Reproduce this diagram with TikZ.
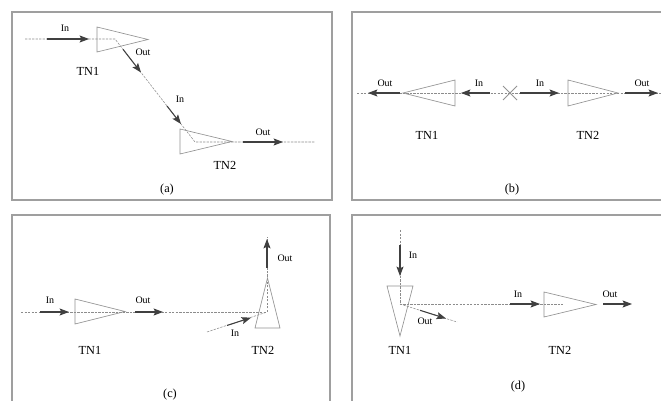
\documentclass[tikz,border=0pt]{standalone}
\usepackage{fontspec}
\setmainfont{Liberation Serif}
\usetikzlibrary{arrows.meta}

\begin{document}
\begin{tikzpicture}[
  x=0.03cm, y=-0.03cm,
  panel/.style={draw=gray!75, line width=0.9pt},
  amp/.style={draw=gray!85, line width=0.55pt},
  beam/.style={dash pattern=on 2pt off 1pt, draw=gray!90, line width=0.45pt},
  flow/.style={-{Stealth[length=8pt,width=6pt,inset=1.5pt]}, draw=black!75, line width=0.9pt},
  tag/.style={font=\fontsize{8.5}{9}\selectfont, inner sep=0pt},
  label/.style={font=\fontsize{10.5}{12}\selectfont, inner sep=0pt},
]
\clip (0,0) rectangle (661,401);
\fill[white] (0,0) rectangle (661,401);

% frames
\draw[panel] (12,12) rectangle (332,200);
\draw[panel] (352,12) rectangle (700,200);
\draw[panel] (12,215) rectangle (330,420);
\draw[panel] (352,215) rectangle (700,420);

% ---------- (a)
\coordinate (aS) at (25,39);   \coordinate (aK1) at (115,39);
\coordinate (aK2) at (195,142); \coordinate (aE) at (315,142);
\draw[beam] (aS) -- (aK1) -- (aK2) -- (aE);
\draw[amp] (97,27) -- (97,52) -- (148,39.5) -- cycle;
\draw[amp] (180,129) -- (180,154) -- (232,141.5) -- cycle;
\coordinate (aA1) at (47,39);  \coordinate (aB1) at (89,39);
\coordinate (aA2) at (123,49.3); \coordinate (aB2) at (141,72.5);
\coordinate (aA3) at (167,106); \coordinate (aB3) at (181,124);
\coordinate (aA4) at (243,142); \coordinate (aB4) at (283,142);
\draw[flow] (aA1) -- (aB1);
\draw[flow] (aA2) -- (aB2);
\draw[flow] (aA3) -- (aB3);
\draw[flow] (aA4) -- (aB4);
\node[tag] (aIn1) at (65,28) {In};
\node[tag] (aOut1) at (143,52) {Out};
\node[tag] (aIn2) at (180,99) {In};
\node[tag] (aOut2) at (263,132) {Out};
\node[label] (aTN1) at (88,71) {TN1};
\node[label] (aTN2) at (225,165) {TN2};
\node[label] (aCap) at (167,190) {(a)};

% ---------- (b)
\coordinate (bS) at (357,93); \coordinate (bE) at (670,93);
\draw[beam] (bS) -- (bE);
\draw[amp] (455,80) -- (455,106) -- (403,93) -- cycle;
\draw[amp] (568,80) -- (568,106) -- (618,93) -- cycle;
\draw[draw=gray!85, line width=0.65pt] (503,86) -- (517,100) (503,100) -- (517,86);
\coordinate (bA1) at (400,93); \coordinate (bB1) at (368,93);
\coordinate (bA2) at (490,93); \coordinate (bB2) at (461,93);
\coordinate (bA3) at (520,93); \coordinate (bB3) at (559,93);
\coordinate (bA4) at (625,93); \coordinate (bB4) at (658,93);
\draw[flow] (bA1) -- (bB1);
\draw[flow] (bA2) -- (bB2);
\draw[flow] (bA3) -- (bB3);
\draw[flow] (bA4) -- (bB4);
\node[tag] (bOut1) at (385,83) {Out};
\node[tag] (bIn1) at (479,83) {In};
\node[tag] (bIn2) at (540,83) {In};
\node[tag] (bOut2) at (642,83) {Out};
\node[label] (bTN1) at (427,135) {TN1};
\node[label] (bTN2) at (588,135) {TN2};
\node[label] (bCap) at (512,190) {(b)};

% ---------- (c)
\coordinate (cS) at (21,312); \coordinate (cK) at (267,312);
\coordinate (cE) at (267,237); \coordinate (cR) at (207,332);
\draw[beam] (cS) -- (cK) -- (cE);
\draw[beam] (cR) -- (cK);
\draw[amp] (255,328) -- (280,328) -- (267.5,278) -- cycle;
\draw[amp] (75,299) -- (75,324) -- (125,311.5) -- cycle;
\coordinate (cA1) at (40,312);  \coordinate (cB1) at (69,312);
\coordinate (cA2) at (135,312); \coordinate (cB2) at (163,312);
\coordinate (cA3) at (267,268); \coordinate (cB3) at (267,239);
\coordinate (cA4) at (227,325.5); \coordinate (cB4) at (251,317.7);
\draw[flow] (cA1) -- (cB1);
\draw[flow] (cA2) -- (cB2);
\draw[flow] (cA3) -- (cB3);
\draw[flow] (cA4) -- (cB4);
\node[tag] (cIn1) at (50,300) {In};
\node[tag] (cOut1) at (143,300) {Out};
\node[tag] (cOut2) at (285,258) {Out};
\node[tag] (cIn2) at (235,333) {In};
\node[label] (cTN1) at (90,350) {TN1};
\node[label] (cTN2) at (263,350) {TN2};
\node[label] (cCap) at (170,395) {(c)};

% ---------- (d)
\coordinate (dS) at (400,230); \coordinate (dK) at (400,304);
\coordinate (dE) at (563,304); \coordinate (dR) at (457,322);
\draw[beam] (dS) -- (dK) -- (dE);
\draw[beam] (dK) -- (dR);
\draw[amp] (387,286) -- (413,286) -- (400,336) -- cycle;
\draw[amp] (544,292) -- (544,317) -- (596,304.5) -- cycle;
\coordinate (dA1) at (400,245); \coordinate (dB1) at (400,276);
\coordinate (dA2) at (510,304); \coordinate (dB2) at (540,304);
\coordinate (dA3) at (603,304); \coordinate (dB3) at (632,304);
\coordinate (dA4) at (420,310.3); \coordinate (dB4) at (446,318.5);
\draw[flow] (dA1) -- (dB1);
\draw[flow] (dA2) -- (dB2);
\draw[flow] (dA3) -- (dB3);
\draw[flow] (dA4) -- (dB4);
\node[tag] (dIn1) at (413,255) {In};
\node[tag] (dIn2) at (518,294) {In};
\node[tag] (dOut2) at (610,294) {Out};
\node[tag] (dOut1) at (425,321) {Out};
\node[label] (dTN1) at (400,350) {TN1};
\node[label] (dTN2) at (560,350) {TN2};
\node[label] (dCap) at (518,387) {(d)};
\end{tikzpicture}
\end{document}
